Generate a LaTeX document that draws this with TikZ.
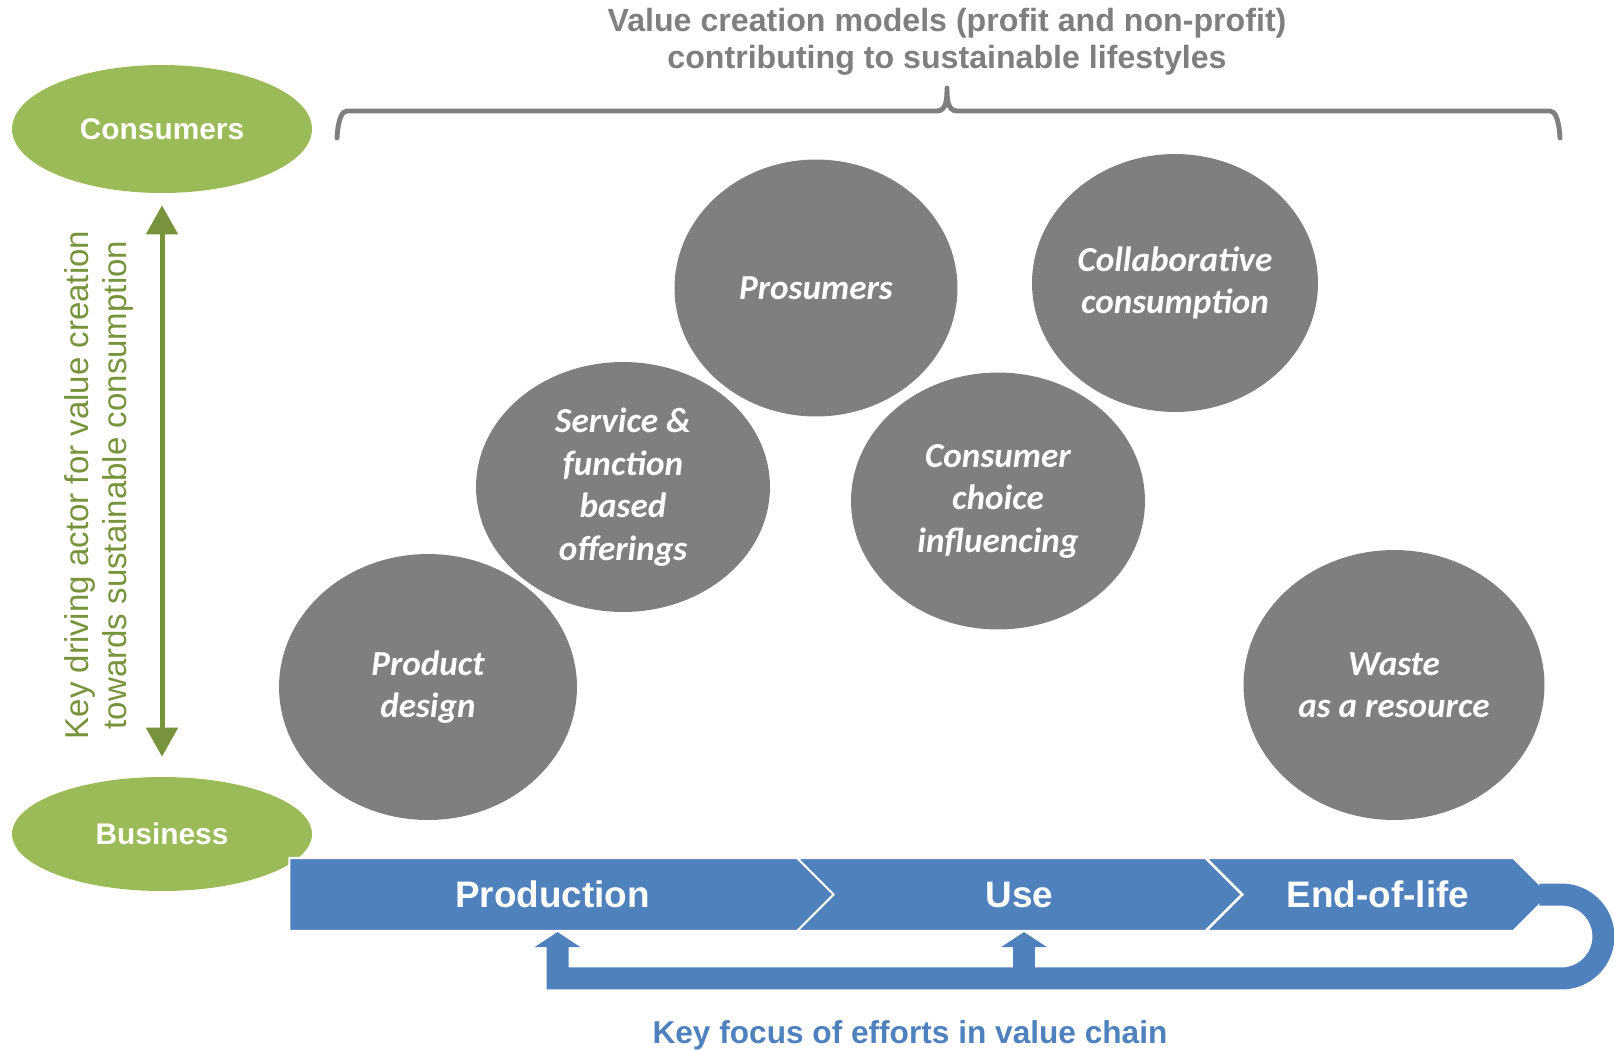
\documentclass[tikz,border=0pt]{standalone}
\usepackage{fontspec}
\setmainfont{Liberation Sans}
\newfontfamily\circfont{Carlito}
\usetikzlibrary{shapes.geometric,shapes.symbols,arrows.meta}
\definecolor{leaf}{HTML}{9BBB59}
\definecolor{moss}{HTML}{77933C}
\definecolor{slate}{HTML}{7F7F7F}
\definecolor{chain}{HTML}{4F81BD}

\begin{document}
\begin{tikzpicture}[x=0.02cm,y=-0.02cm,
actor/.style={ellipse,fill=leaf,text=white,inner sep=0,minimum width=6cm,font=\fontsize{17}{20}\selectfont\bfseries},
model/.style={ellipse,fill=slate,text=white,align=center,inner sep=0,font=\circfont\fontsize{20}{24.2}\selectfont\bfseries\itshape},
stage/.style={signal,signal to=east,signal pointer angle=90,fill=chain,draw=white,line width=1.2pt,minimum height=1.46cm,inner sep=0,text=white,font=\fontsize{21}{25}\selectfont\bfseries},
feedback/.style={draw=chain,line width=0.44cm,-{Triangle[width=0.9cm,length=0.3cm]}}]

\useasboundingbox (0,0) rectangle (1614,1049);

\node[align=center,text=slate,font=\fontsize{18.3}{21}\selectfont\bfseries] (title) at (947,42) {Value creation models (profit and non-profit)\\contributing to sustainable lifestyles};
\draw[slate,line width=2.8pt,line join=round] (337,136) to[out=-90,in=180] (347,111) -- (937,111) to[out=0,in=-90] (947,88) to[out=-90,in=180] (957,111) -- (1550,111) to[out=0,in=-90] (1560,136);

\node[actor,minimum height=2.56cm] (consumers) at (162,129) {Consumers};
\node[actor,minimum height=2.28cm] (business) at (162,834) {Business};
\draw[moss,line width=0.1cm,{Triangle[width=0.62cm,length=0.58cm]}-{Triangle[width=0.62cm,length=0.58cm]},shorten <=0.24cm,shorten >=0.4cm] (consumers) -- (business);
\node[rotate=90,align=center,text=moss,font=\fontsize{18.8}{21.6}\selectfont] (driver) at (99,485) {Key driving actor for value creation\\towards sustainable consumption};

\node[model,minimum width=5.66cm,minimum height=5.14cm] (prosumers) at (816,288) {Prosumers};
\node[model,minimum width=5.72cm,minimum height=5.16cm] (collab) at (1175,283) {Collaborative\\consumption};
\node[model,minimum width=5.88cm,minimum height=5cm] (service) at (623,487) {Service \&\\function\\based\\offerings};
\node[model,minimum width=5.88cm,minimum height=5.14cm] (choice) at (998,501) {Consumer\\choice\\influencing};
\node[model,minimum width=5.96cm,minimum height=5.32cm] (design) at (428,687) {Product\\design};
\node[model,minimum width=6.02cm,minimum height=5.4cm] (waste) at (1394,685) {Waste\\as a resource};

\node[stage,minimum width=11.26cm] (prod) at (552.5,894.5) {Production};
\node[stage,signal from=west,minimum width=8.9cm] (use) at (1019.5,894.5) {Use};
\node[stage,signal from=west,minimum width=6.88cm] (eol) at (1378,894.5) {End-of-life};

\coordinate (bend) at (1560,979);
\draw[feedback] ([xshift=-0.24cm]eol.east) -- ++(22,0) arc[start angle=90,end angle=-90,radius=0.84cm] -| ([xshift=0.1cm]prod.south);
\draw[feedback] ([xshift=0.09cm]use.south |- bend) -- ([xshift=0.09cm]use.south);

\node[text=chain,font=\fontsize{18}{21}\selectfont\bfseries] (focus) at (910,1035) {Key focus of efforts in value chain};
\end{tikzpicture}
\end{document}
